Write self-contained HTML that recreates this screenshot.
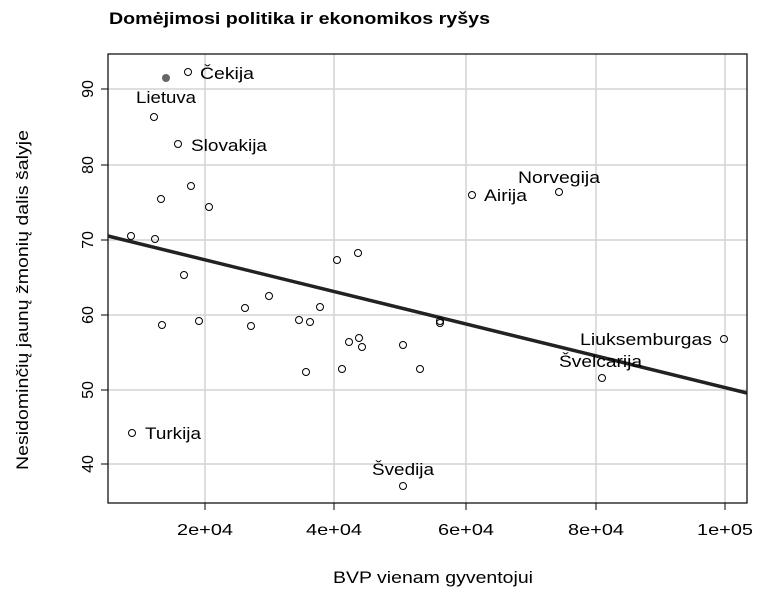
<!DOCTYPE html>
<html><head><meta charset="utf-8"><style>body{margin:0;background:#fff}</style></head><body>
<svg width="768" height="594" xmlns="http://www.w3.org/2000/svg" font-family="Liberation Sans, Arial, sans-serif">
<rect width="768" height="594" fill="#fff"/>
<text x="109" y="24" font-size="17" font-weight="bold" textLength="381" lengthAdjust="spacingAndGlyphs">Domėjimosi politika ir ekonomikos ryšys</text>
<g stroke="#d3d3d3" stroke-width="1.5">
<line x1="205" y1="54" x2="205" y2="503"/><line x1="334" y1="54" x2="334" y2="503"/>
<line x1="466" y1="54" x2="466" y2="503"/><line x1="596" y1="54" x2="596" y2="503"/>
<line x1="725" y1="54" x2="725" y2="503"/>
<line x1="108" y1="89" x2="747" y2="89"/><line x1="108" y1="165" x2="747" y2="165"/>
<line x1="108" y1="240" x2="747" y2="240"/><line x1="108" y1="315" x2="747" y2="315"/>
<line x1="108" y1="390" x2="747" y2="390"/><line x1="108" y1="464" x2="747" y2="464"/>
</g>
<rect x="108" y="54" width="639" height="449" fill="none" stroke="#000" stroke-width="1.2"/>
<g stroke="#000" stroke-width="1">
<line x1="205" y1="503" x2="205" y2="510"/><line x1="334" y1="503" x2="334" y2="510"/>
<line x1="466" y1="503" x2="466" y2="510"/><line x1="596" y1="503" x2="596" y2="510"/>
<line x1="725" y1="503" x2="725" y2="510"/>
<line x1="101" y1="89" x2="108" y2="89"/><line x1="101" y1="165" x2="108" y2="165"/>
<line x1="101" y1="240" x2="108" y2="240"/><line x1="101" y1="315" x2="108" y2="315"/>
<line x1="101" y1="390" x2="108" y2="390"/><line x1="101" y1="464" x2="108" y2="464"/>
</g>
<g font-size="16">
<text x="177" y="535" textLength="56" lengthAdjust="spacingAndGlyphs">2e+04</text>
<text x="306" y="535" textLength="56" lengthAdjust="spacingAndGlyphs">4e+04</text>
<text x="438" y="535" textLength="56" lengthAdjust="spacingAndGlyphs">6e+04</text>
<text x="568" y="535" textLength="56" lengthAdjust="spacingAndGlyphs">8e+04</text>
<text x="697" y="535" textLength="56" lengthAdjust="spacingAndGlyphs">1e+05</text>
</g>
<g font-size="16" text-anchor="middle">
<text transform="translate(93,89) rotate(-90)">90</text><text transform="translate(93,165) rotate(-90)">80</text>
<text transform="translate(93,240) rotate(-90)">70</text><text transform="translate(93,315) rotate(-90)">60</text>
<text transform="translate(93,390) rotate(-90)">50</text><text transform="translate(93,464) rotate(-90)">40</text>
</g>
<text x="333" y="583" font-size="17" textLength="200" lengthAdjust="spacingAndGlyphs">BVP vienam gyventojui</text>
<text transform="translate(28,470) rotate(-90)" font-size="17" textLength="340" lengthAdjust="spacingAndGlyphs">Nesidominčių jaunų žmonių dalis šalyje</text>
<line x1="108" y1="236" x2="747" y2="393" stroke="#222" stroke-width="3.5"/>
<g fill="none" stroke="#000" stroke-width="1">
<circle cx="188" cy="72" r="3.5"/><circle cx="154" cy="117" r="3.5"/><circle cx="178" cy="144" r="3.5"/>
<circle cx="191" cy="186" r="3.5"/><circle cx="161" cy="199" r="3.5"/><circle cx="209" cy="207" r="3.5"/>
<circle cx="131" cy="236" r="3.5"/><circle cx="155" cy="239" r="3.5"/><circle cx="184" cy="275" r="3.5"/>
<circle cx="245" cy="308" r="3.5"/><circle cx="162" cy="325" r="3.5"/><circle cx="199" cy="321" r="3.5"/>
<circle cx="251" cy="326" r="3.5"/><circle cx="269" cy="296" r="3.5"/><circle cx="299" cy="320" r="3.5"/>
<circle cx="310" cy="322" r="3.5"/><circle cx="320" cy="307" r="3.5"/><circle cx="337" cy="260" r="3.5"/>
<circle cx="358" cy="253" r="3.5"/><circle cx="306" cy="372" r="3.5"/><circle cx="342" cy="369" r="3.5"/>
<circle cx="349" cy="342" r="3.5"/><circle cx="359" cy="338" r="3.5"/><circle cx="362" cy="347" r="3.5"/>
<circle cx="403" cy="345" r="3.5"/><circle cx="420" cy="369" r="3.5"/><circle cx="440" cy="321" r="3.5"/>
<circle cx="440" cy="323" r="3.5"/><circle cx="472" cy="195" r="3.5"/><circle cx="559" cy="192" r="3.5"/>
<circle cx="602" cy="378" r="3.5"/><circle cx="724" cy="339" r="3.5"/><circle cx="132" cy="433" r="3.5"/>
<circle cx="403" cy="486" r="3.5"/>
</g>
<circle cx="166" cy="78" r="4" fill="#666"/>
<g font-size="17" lengthAdjust="spacingAndGlyphs">
<text x="200" y="79" textLength="54" lengthAdjust="spacingAndGlyphs">Čekija</text>
<text x="136" y="103" textLength="60" lengthAdjust="spacingAndGlyphs">Lietuva</text>
<text x="191" y="151" textLength="76" lengthAdjust="spacingAndGlyphs">Slovakija</text>
<text x="518" y="183" textLength="82" lengthAdjust="spacingAndGlyphs">Norvegija</text>
<text x="484" y="201" textLength="43" lengthAdjust="spacingAndGlyphs">Airija</text>
<text x="580" y="345" textLength="132" lengthAdjust="spacingAndGlyphs">Liuksemburgas</text>
<text x="559" y="367" textLength="83" lengthAdjust="spacingAndGlyphs">Švelcarija</text>
<text x="145" y="439" textLength="56" lengthAdjust="spacingAndGlyphs">Turkija</text>
<text x="372" y="475" textLength="62" lengthAdjust="spacingAndGlyphs">Švedija</text>
</g>
</svg>
</body></html>
